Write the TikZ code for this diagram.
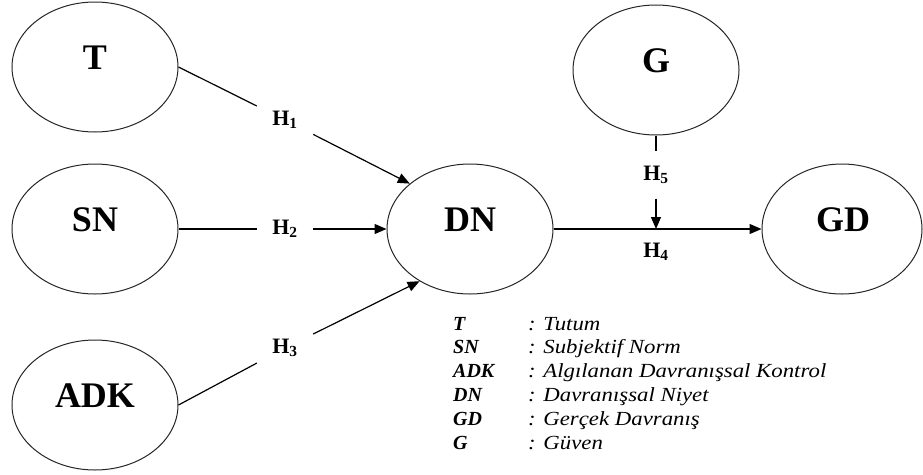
\documentclass[tikz,border=0pt]{standalone}
\usepackage{fontspec}
\setmainfont{Liberation Serif}
\newfontfamily\legfont[FakeStretch=1.14]{Liberation Serif}
\usetikzlibrary{shapes.geometric,arrows.meta}
\begin{document}
\begin{tikzpicture}[x=1pt,y=-1pt,
  ell/.style={ellipse,draw=black!85,line width=1pt,minimum width=166pt,minimum height=130pt,inner sep=0pt},
  big/.style={font=\fontsize{36}{40}\selectfont\bfseries,inner sep=0pt},
  hyp/.style={font=\fontsize{22}{24}\selectfont\bfseries,inner sep=0pt,minimum width=56pt,minimum height=30pt},
  conn/.style={line width=1.2pt,black},
  arr/.style={conn,-{Triangle[length=12pt,width=10pt]}},
  abbr/.style={font=\fontsize{20}{22}\selectfont\bfseries\itshape,anchor=base west,inner sep=0pt},
  defn/.style={font=\legfont\fontsize{20}{22}\selectfont\itshape,anchor=base west,inner sep=0pt}]
\useasboundingbox (0,0) rectangle (923,474);

% ellipses
\node[ell] (T) at (95,67) {};
\node[ell] (SN) at (95,229) {};
\node[ell] (ADK) at (95,405) {};
\node[ell] (DN) at (470,229) {};
\node[ell] (G) at (656,70) {};
\node[ell,minimum width=160pt] (GD) at (842,229) {};

% ellipse texts
\node[big] (Tt) at (95,58) {T};
\node[big] (SNt) at (95,220) {SN};
\node[big] (ADKt) at (95,396) {ADK};
\node[big] (DNt) at (470,220) {DN};
\node[big] (Gt) at (656,61) {G};
\node[big] (GDt) at (843,220) {GD};

% hypothesis labels
\node[hyp] (H1) at (285,120) {H\textsubscript{1}};
\node[hyp] (H2) at (285,229) {H\textsubscript{2}};
\node[hyp] (H3) at (285,348) {H\textsubscript{3}};
\node[hyp,minimum height=47pt] (H5) at (656,175) {H\textsubscript{5}};
\node[hyp] (H4) at (656,252) {H\textsubscript{4}};
\coordinate (J) at (656,229);

% connectors
\draw[conn] (T.east) -- (H1);
\draw[arr] (H1) -- (DN.143);
\draw[conn] (SN.east) -- (H2);
\draw[arr] (H2) -- (DN.west);
\draw[conn] (ADK.east) -- (H3);
\draw[arr] (H3) -- (DN.226);
\draw[arr] (DN.east) -- (GD.west);
\draw[conn] (G.south) -- (H5);
\draw[arr] (H5) -- (J);

% legend
\foreach \a/\d [count=\i] in {T/: Tutum, SN/: Subjektif Norm, ADK/: Algılanan Davranışsal Kontrol, DN/: Davranışsal Niyet, GD/: Gerçek Davranış, G/: Güven} {
  \node[abbr] (a\i) at (453,{330+23.8*(\i-1)}) {\a};
  \node[defn] (d\i) at (528,{330+23.8*(\i-1)}) {\d};
}
\end{tikzpicture}
\end{document}
